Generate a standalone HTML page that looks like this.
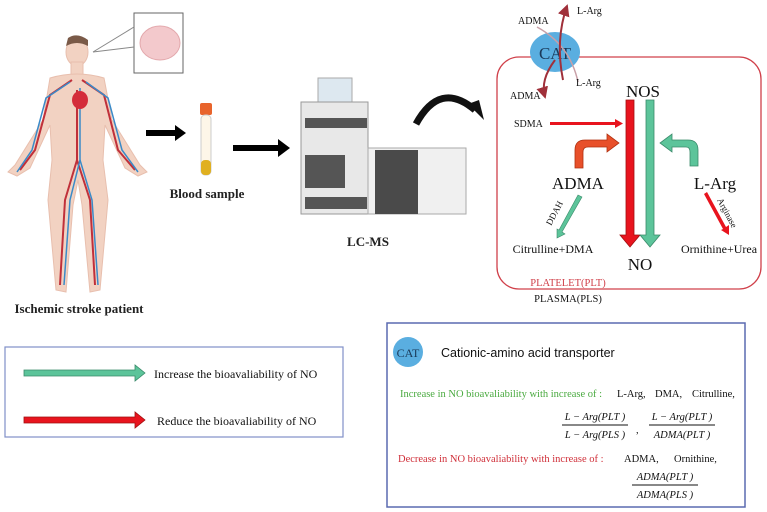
<!DOCTYPE html>
<html><head><meta charset="utf-8"><style>
html,body{margin:0;padding:0;background:#fff;}
svg{display:block;font-family:"Liberation Serif",serif;}
</style></head><body>
<svg width="767" height="512" viewBox="0 0 767 512" xmlns="http://www.w3.org/2000/svg">
<defs>
<marker id="dr" markerWidth="6" markerHeight="6" refX="5" refY="3" orient="auto"><path d="M0,0 L6,3 L0,6 z" fill="#a0303a"/></marker>
</defs>
<!-- human body -->
<g fill="#f2d2c2" stroke="#e8bfae" stroke-width="1">
<ellipse cx="77" cy="52" rx="11" ry="14"/>
<rect x="71" y="62" width="12" height="14"/>
<path d="M50,78 Q77,70 104,78 L112,120 L140,165 L147,172 L138,176 L125,168 L105,125 L103,160 L108,200 L100,290 L90,292 L82,205 L78,180 L73,205 L66,292 L56,290 L48,200 L52,160 L50,125 L30,168 L17,176 L8,172 L15,165 L43,120 Z"/>
</g>
<path d="M68,38 Q77,32 88,40 L88,46 Q77,40 66,46 Z" fill="#7a5a48"/>
<g stroke="#c0303a" stroke-width="2" fill="none">
<path d="M77,90 L77,160 L65,200 L60,285"/><path d="M77,160 L90,200 L95,285"/>
<path d="M72,80 L50,95 L35,150 L20,170"/><path d="M82,80 L104,95 L118,150 L135,170"/>
</g>
<g stroke="#3a8ac8" stroke-width="1.5" fill="none">
<path d="M80,88 L80,160 L70,200 L64,285"/><path d="M80,160 L92,200 L98,285"/>
<path d="M70,82 L46,98 L32,150 L17,172"/><path d="M86,82 L108,98 L122,150 L138,172"/>
</g>
<ellipse cx="80" cy="100" rx="8" ry="9" fill="#d42c3a"/>
<!-- brain box -->
<rect x="134" y="13" width="49" height="60" fill="#fff" stroke="#666" stroke-width="1"/>
<line x1="93" y1="52" x2="134" y2="27" stroke="#888"/><line x1="93" y1="52" x2="134" y2="47" stroke="#888"/>
<ellipse cx="160" cy="43" rx="20" ry="17" fill="#f3c9cc" stroke="#e3a8ac"/>
<text x="79" y="313" font-size="13" font-weight="bold" text-anchor="middle" fill="#222">Ischemic stroke patient</text>
<!-- arrow1 -->
<path d="M146,130 L175,130 L175,125 L186,133 L175,141 L175,136 L146,136 Z" fill="#000"/>
<!-- tube -->
<rect x="200" y="103" width="12" height="12" rx="2" fill="#e8642c"/>
<rect x="201" y="115" width="10" height="60" rx="4" fill="#fdf6e8" stroke="#ccc"/>
<rect x="201" y="160" width="10" height="15" rx="4" fill="#e0b020"/>
<text x="207" y="198" font-size="13" font-weight="bold" text-anchor="middle" fill="#222">Blood sample</text>
<!-- arrow2 -->
<path d="M233,145 L278,145 L278,139 L290,148 L278,157 L278,151 L233,151 Z" fill="#000"/>
<!-- LC-MS -->
<rect x="318" y="78" width="34" height="24" fill="#dde8f0" stroke="#aaa"/>
<rect x="301" y="102" width="67" height="112" fill="#e8e8e8" stroke="#999"/>
<rect x="305" y="118" width="62" height="10" fill="#555"/>
<rect x="305" y="155" width="40" height="33" fill="#555"/>
<rect x="305" y="197" width="62" height="12" fill="#555"/>
<rect x="368" y="148" width="98" height="66" fill="#f0f0f0" stroke="#aaa"/>
<rect x="375" y="150" width="43" height="64" fill="#4a4a4a"/>
<text x="368" y="246" font-size="13" font-weight="bold" text-anchor="middle" fill="#222">LC-MS</text>
<!-- curved arrow -->
<path d="M416,124 Q440,80 475,110" stroke="#111" stroke-width="7" fill="none"/>
<path d="M468,104 L484,120 L479,100 Z" fill="#111"/>
<!-- platelet box -->
<rect x="497" y="57" width="264" height="232" rx="22" fill="none" stroke="#d0404a" stroke-width="1.3"/>
<ellipse cx="555" cy="52" rx="25" ry="20" fill="#5aaee0"/>
<text x="555" y="59" font-size="17" text-anchor="middle" fill="#1a3a5a">CAT</text>
<path d="M537,27 Q570,45 578,82" stroke="#c8a0a8" stroke-width="1.5" fill="none"/>
<path d="M555,60 Q540,80 545,97" stroke="#a0303a" stroke-width="2" fill="none" marker-end="url(#dr)"/>
<path d="M563,80 Q555,40 567,6" stroke="#a0303a" stroke-width="2" fill="none" marker-end="url(#dr)"/>
<text x="518" y="24" font-size="10" fill="#111">ADMA</text>
<text x="577" y="14" font-size="10" fill="#111">L-Arg</text>
<text x="576" y="86" font-size="10" fill="#111">L-Arg</text>
<text x="510" y="99" font-size="10" fill="#111">ADMA</text>
<text x="643" y="97" font-size="17" text-anchor="middle" fill="#111">NOS</text>
<text x="640" y="270" font-size="17" text-anchor="middle" fill="#111">NO</text>
<!-- big arrows -->
<path d="M626,100 L634,100 L634,235 L640,235 L630,247 L620,235 L626,235 Z" fill="#e8141e" stroke="#a01010" stroke-width="0.8"/>
<path d="M646,100 L654,100 L654,235 L660,235 L650,247 L640,235 L646,235 Z" fill="#5cc49a" stroke="#3a8a6a" stroke-width="0.8"/>
<text x="514" y="127" font-size="10" fill="#111">SDMA</text>
<path d="M550,122 L615,122 L615,119 L623,123.5 L615,128 L615,125 L550,125 Z" fill="#e8141e"/>
<!-- bent arrows -->
<path d="M575,168 L575,150 Q575,140 585,140 L607,140 L607,134 L619,143 L607,152 L607,147 L588,147 Q583,147 583,152 L583,168 Z" fill="#e8502a" stroke="#b03010" stroke-width="0.8"/>
<path d="M698,166 L698,150 Q698,140 688,140 L672,140 L672,134 L660,143 L672,152 L672,147 L686,147 Q690,147 690,152 L690,166 Z" fill="#5cc49a" stroke="#3a8a6a" stroke-width="0.8"/>
<text x="578" y="189" font-size="17" text-anchor="middle" fill="#111">ADMA</text>
<text x="715" y="189" font-size="17" text-anchor="middle" fill="#111">L-Arg</text>
<path d="M578,195 L582,197 L562,232 L565,234 L557,238 L557,229 L559,230 Z" fill="#5cc49a" stroke="#3a8a6a" stroke-width="0.6"/>
<path d="M704,194 L707,192 L726,227 L729,225 L729,235 L721,230 L723,229 Z" fill="#e8141e"/>
<text x="553" y="253" font-size="12" text-anchor="middle" fill="#111">Citrulline+DMA</text>
<text x="719" y="253" font-size="12" text-anchor="middle" fill="#111">Ornithine+Urea</text>
<text transform="translate(551,226) rotate(-62)" font-size="9" fill="#111">DDAH</text>
<text transform="translate(717,200) rotate(62)" font-size="9" fill="#111">Arginase</text>
<text x="568" y="286" font-size="10.5" text-anchor="middle" fill="#d0404a">PLATELET(PLT)</text>
<text x="568" y="302" font-size="10.5" text-anchor="middle" fill="#111">PLASMA(PLS)</text>
<!-- legend left -->
<rect x="5" y="347" width="338" height="90" fill="#fff" stroke="#8090c8" stroke-width="1.2"/>
<path d="M24,370 L135,370 L135,365 L145,373 L135,381 L135,376 L24,376 Z" fill="#5cc49a" stroke="#3a8a6a" stroke-width="0.8"/>
<path d="M24,417 L135,417 L135,412 L145,420 L135,428 L135,423 L24,423 Z" fill="#e8141e" stroke="#a01010" stroke-width="0.8"/>
<text x="154" y="378" font-size="12" fill="#111">Increase the bioavaliability of NO</text>
<text x="157" y="425" font-size="12" fill="#111">Reduce the bioavaliability of NO</text>
<!-- legend right -->
<rect x="387" y="323" width="358" height="184" fill="#fff" stroke="#5a6ab0" stroke-width="1.5"/>
<circle cx="408" cy="352" r="15" fill="#5aaee0"/>
<text x="408" y="357" font-size="12" text-anchor="middle" fill="#1a3a5a">CAT</text>
<text x="441" y="357" font-size="12.5" fill="#111" font-family="Liberation Sans,sans-serif">Cationic-amino acid transporter</text>
<text x="400" y="397" font-size="10.5" fill="#4aaa40">Increase in NO bioavaliability with increase of :</text>
<text x="617" y="397" font-size="10.5" fill="#111">L-Arg,</text>
<text x="655" y="397" font-size="10.5" fill="#111">DMA,</text>
<text x="692" y="397" font-size="10.5" fill="#111">Citrulline,</text>
<g font-size="10.5" text-anchor="middle" fill="#111" font-style="italic">
<text x="595" y="420">L − Arg(PLT )</text><line x1="562" y1="425" x2="628" y2="425" stroke="#111"/><text x="595" y="438">L − Arg(PLS )</text>
<text x="682" y="420">L − Arg(PLT )</text><line x1="649" y1="425" x2="715" y2="425" stroke="#111"/><text x="682" y="438">ADMA(PLT )</text>
<text x="665" y="480">ADMA(PLT )</text><line x1="632" y1="485" x2="698" y2="485" stroke="#111"/><text x="665" y="498">ADMA(PLS )</text>
</g>
<text x="636" y="433" font-size="10.5" fill="#111">,</text>
<text x="398" y="462" font-size="10.5" fill="#d0303a">Decrease in NO bioavaliability with increase of :</text>
<text x="624" y="462" font-size="10.5" fill="#111">ADMA,</text>
<text x="674" y="462" font-size="10.5" fill="#111">Ornithine,</text>
</svg>
</body></html>
